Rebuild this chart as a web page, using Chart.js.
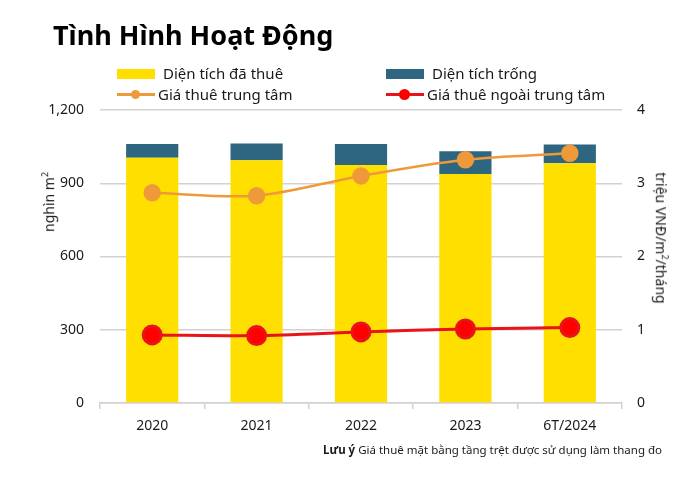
<!DOCTYPE html>
<html>
<head>
<meta charset="utf-8">
<script src="https://cdn.jsdelivr.net/npm/chart.js@4/dist/chart.umd.min.js"></script>
<style>
    body { margin: 0; background: #fff; font-family: "Noto Sans", sans-serif; color: #1a1a1a; }
    #wrap { position: relative; width: 698px; height: 490px; overflow: hidden; }
    #chart { position: absolute; left: 0; top: 0; }
    .title { position: absolute; left: 53px; top: 16px; font-size: 27px; font-weight: bold; color: #000; white-space: nowrap; }
    .leg { position: absolute; font-size: 15px; white-space: nowrap; line-height: 18px; }
    .box { position: absolute; width: 38px; height: 10px; }
    .lin { position: absolute; width: 38px; height: 3px; }
    .dot { position: absolute; border-radius: 50%; }
    .ax { position: absolute; font-size: 14px; white-space: nowrap; line-height: 18px; }
    .ax sup { font-size: 9px; }
    .note { position: absolute; left: 323px; top: 442px; font-size: 11.5px; white-space: nowrap; }
</style>
</head>
<body>
<div id="wrap">
    <canvas id="chart" width="698" height="490"></canvas>
    <div class="title">Tình Hình Hoạt Động</div>

    <div class="box" style="left:117px; top:69px; background:#FFDF00;"></div>
    <div class="leg" style="left:163px; top:64px;">Diện tích đã thuê</div>
    <div class="box" style="left:386px; top:69px; background:#2E6680;"></div>
    <div class="leg" style="left:432px; top:64px;">Diện tích trống</div>

    <div class="lin" style="left:117px; top:93px; background:#EE9A3A;"></div>
    <div class="dot" style="left:131px; top:90px; width:9px; height:9px; background:#EE9A3A;"></div>
    <div class="leg" style="left:158px; top:85px;">Giá thuê trung tâm</div>
    <div class="lin" style="left:386px; top:93px; background:#E8141A;"></div>
    <div class="dot" style="left:399px; top:89px; width:11px; height:11px; background:#FF0000;"></div>
    <div class="leg" style="left:427px; top:85px;">Giá thuê ngoài trung tâm</div>

    <div class="ax" style="left:47px; top:202px; transform:translate(-50%,-50%) rotate(-90deg);">nghìn m<sup>2</sup></div>
    <div class="ax" style="left:663px; top:238px; transform:translate(-50%,-50%) rotate(90deg);">triệu VNĐ/m<sup>2</sup>/tháng</div>

    <div class="note"><b>Lưu ý</b> Giá thuê mặt bằng tầng trệt được sử dụng làm thang đo</div>
</div>
<script>
// DATA
var years = ['2020', '2021', '2022', '2023', '6T/2024'];
var leasedArea = [1004, 994, 975, 938, 982];   // nghìn m2
var vacantArea = [57, 69, 86, 93, 77];         // nghìn m2
var cbdRent = [2.87, 2.83, 3.10, 3.32, 3.41];  // triệu VNĐ/m2/tháng
var nonCbdRent = [0.93, 0.92, 0.97, 1.01, 1.03];

var gridColor = '#D4D2D0';
var tickFont = { family: 'Noto Sans', size: 14 };

var ctx = document.getElementById('chart');

var chart = new Chart(ctx, {
    data: {
        labels: years,
        datasets: [{
            type: 'line',
            label: 'Giá thuê trung tâm',
            data: cbdRent,
            yAxisID: 'y2',
            borderColor: '#EE9A3A',
            backgroundColor: '#EE9A3A',
            borderWidth: 2.5,
            pointRadius: 7.5,
            pointHoverRadius: 7.5,
            tension: 0.3,
            order: 0
        }, {
            type: 'line',
            label: 'Giá thuê ngoài trung tâm',
            data: nonCbdRent,
            yAxisID: 'y2',
            borderColor: '#E8141A',
            backgroundColor: '#FF0000',
            borderWidth: 3,
            pointRadius: 9,
            pointHoverRadius: 9,
            tension: 0.3,
            order: 0
        }, {
            type: 'bar',
            label: 'Diện tích đã thuê',
            data: leasedArea,
            yAxisID: 'y',
            backgroundColor: '#FFDF00',
            barPercentage: 0.5,
            categoryPercentage: 1,
            order: 1
        }, {
            type: 'bar',
            label: 'Diện tích trống',
            data: vacantArea,
            yAxisID: 'y',
            backgroundColor: '#2E6680',
            barPercentage: 0.5,
            categoryPercentage: 1,
            order: 1
        }]
    },
    options: {
        responsive: false,
        animation: false,
        layout: { padding: { top: 110, left: 0, right: 0, bottom: 0 } },
        plugins: {
            legend: { display: false },
            tooltip: { enabled: false }
        },
        scales: {
            x: {
                stacked: true,
                grid: { display: true, drawOnChartArea: false, drawTicks: true, tickLength: 6, color: gridColor, lineWidth: 1.5 },
                border: { display: true, color: gridColor, width: 1.5 },
                ticks: { color: '#1a1a1a', font: tickFont, padding: 9 },
                afterFit: function (scale) { scale.height = 87; }
            },
            y: {
                stacked: true,
                position: 'left',
                min: 0,
                max: 1200,
                ticks: {
                    stepSize: 300,
                    color: '#1a1a1a',
                    font: tickFont,
                    padding: 16,
                    callback: function (v) { return v.toLocaleString('en-US'); }
                },
                grid: { color: gridColor, lineWidth: 1.5, drawTicks: false },
                border: { display: false },
                afterFit: function (scale) { scale.width = 100; }
            },
            y2: {
                position: 'right',
                min: 0,
                max: 4,
                ticks: { stepSize: 1, color: '#1a1a1a', font: tickFont, padding: 15 },
                grid: { drawOnChartArea: false, drawTicks: false },
                border: { display: false },
                afterFit: function (scale) { scale.width = 76; }
            }
        }
    }
});
</script>
</body>
</html>
